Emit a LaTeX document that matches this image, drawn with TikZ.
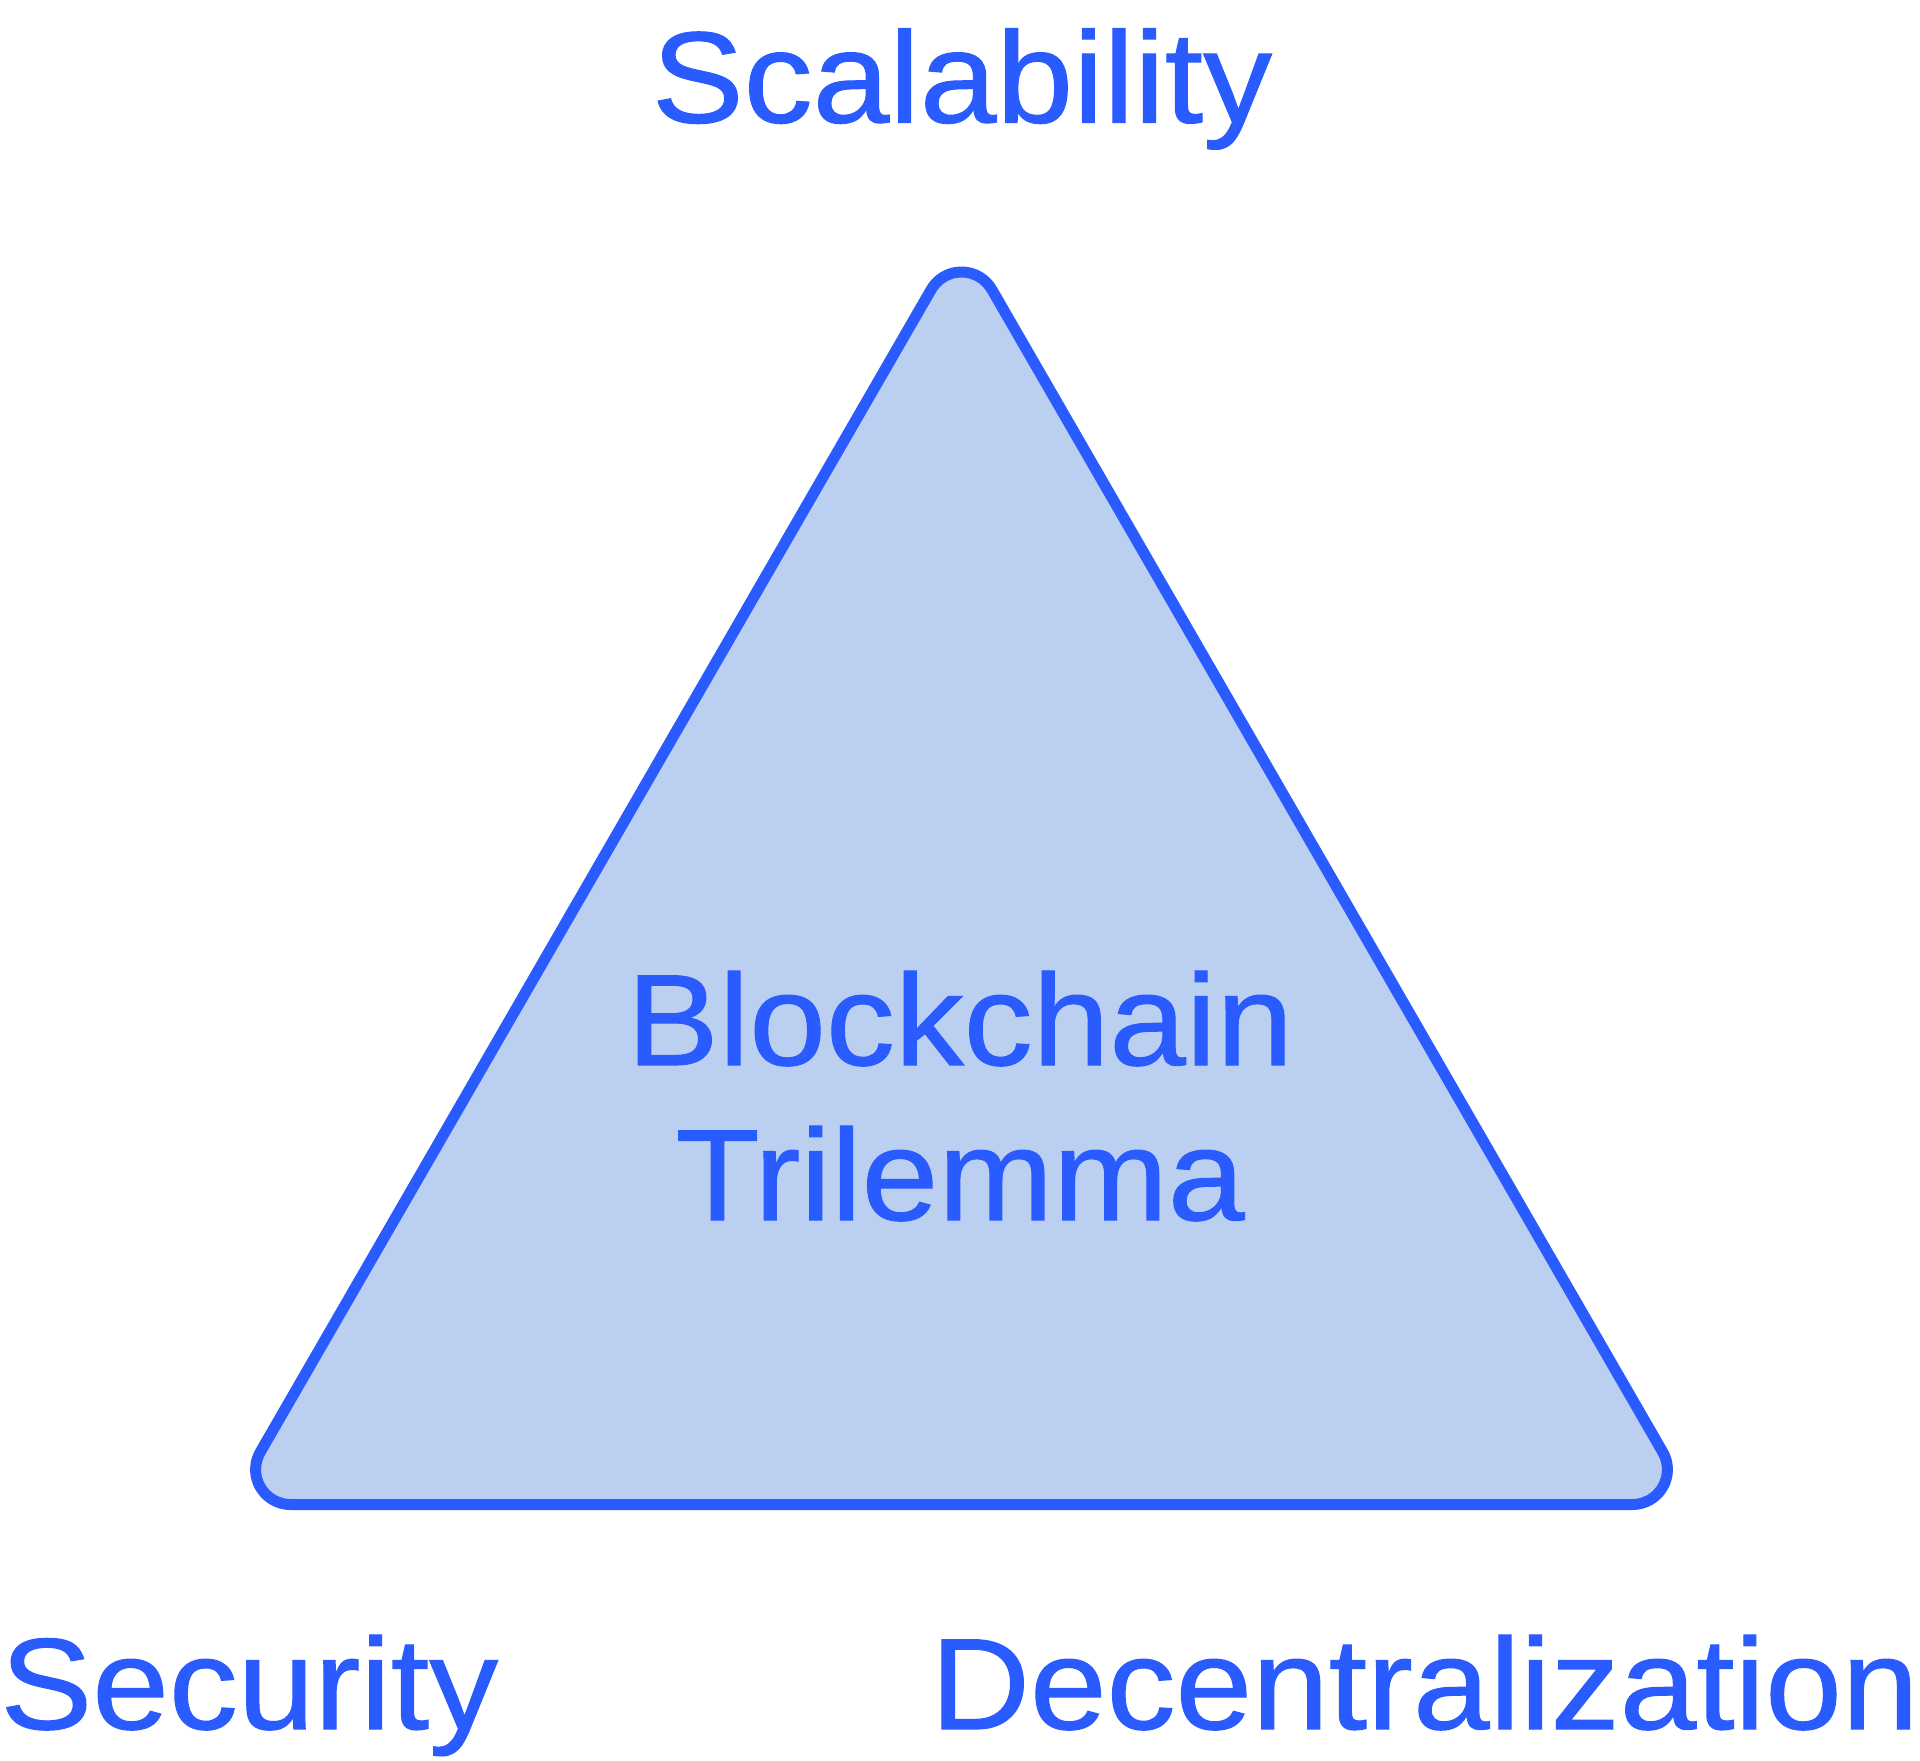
\documentclass[tikz,border=0pt]{standalone}
\usepackage{fontspec}
\setmainfont{Liberation Sans}[FakeStretch=1.06,FakeBold=0.8]
\definecolor{triblue}{HTML}{2A5BFF}
\definecolor{trifill}{HTML}{BBCFF1}
\tikzset{
  lbl/.style={inner sep=0pt, text=triblue, font=\fontsize{65}{77.5}\selectfont},
  tri/.style={draw=triblue, fill=trifill, line width=5.5pt, line join=round},
}
\begin{document}
\begin{tikzpicture}[x=0.5pt,y=-0.5pt]
\useasboundingbox (0,0) rectangle (1920,1760);
% tangent points of the rounded corners (pixel coordinates, y downwards)
\coordinate (topL) at (931.2,289.5);
\coordinate (brR) at (1662.7,1452.0);
\coordinate (blB) at (290.6,1504.5);
\path[tri] (topL) arc[start angle=210, end angle=330, radius=35]
  -- (brR) arc[start angle=-30, end angle=90, radius=35]
  -- (blB) arc[start angle=90, end angle=210, radius=35]
  -- cycle;
\node[lbl, anchor=base] (scal) at (962,122.5) {Scalability};
\node[lbl, anchor=base, align=center] (bt) at (960,1220) {Blockchain\\Trilemma};
\node[lbl, anchor=base west] (sec) at (0,1729) {Security};
\node[lbl, anchor=base east] (dec) at (1919,1729) {Decentralization};
\end{tikzpicture}
\end{document}
